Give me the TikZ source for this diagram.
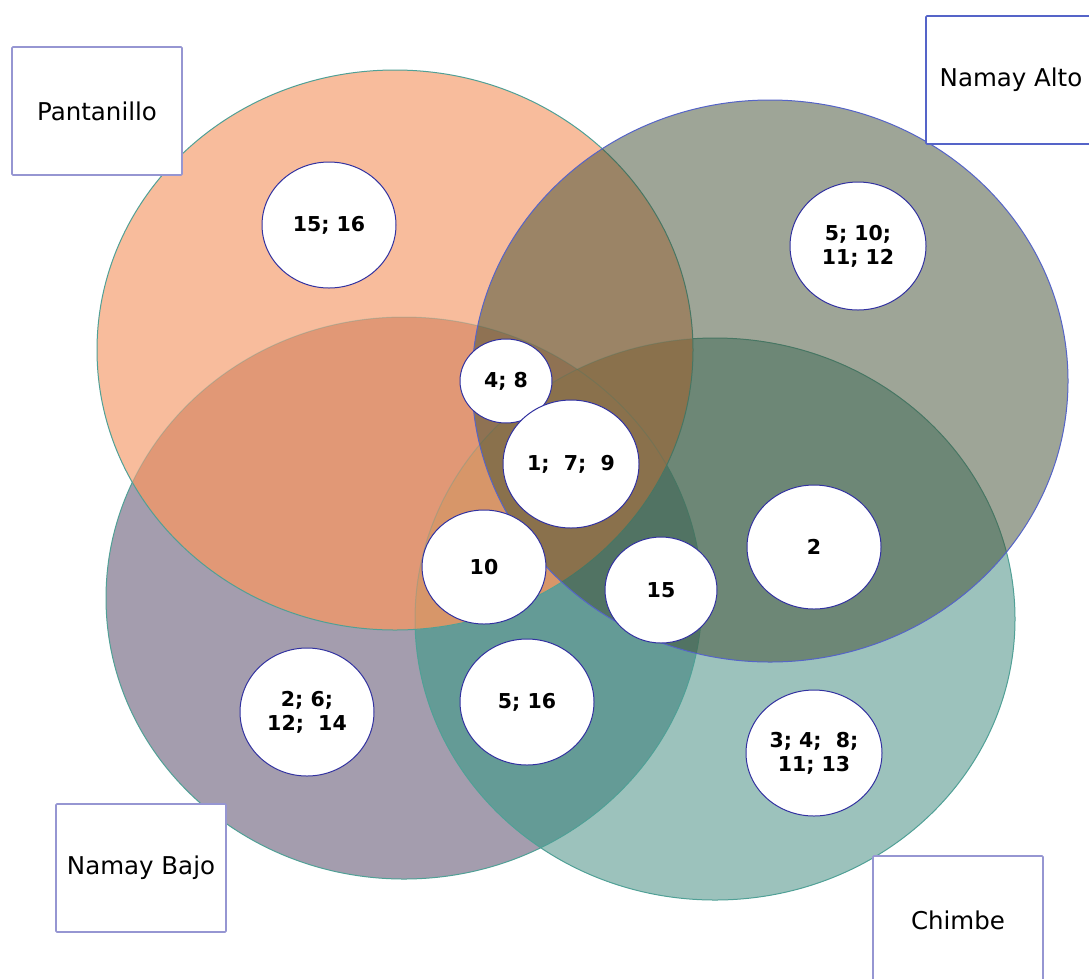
\documentclass[tikz,border=0pt]{standalone}
\usepackage{fontspec}
\setmainfont{DejaVu Sans}
\usetikzlibrary{shapes.geometric}
\definecolor{onlyP}{RGB}{248,188,156}
\definecolor{onlyB}{RGB}{164,157,174}
\definecolor{onlyC}{RGB}{156,194,188}
\definecolor{PB}{RGB}{225,152,118}
\definecolor{PC}{RGB}{215,150,105}
\definecolor{BC}{RGB}{100,155,150}
\definecolor{cAlto}{RGB}{63,77,49}
\definecolor{edgeTeal}{RGB}{80,160,150}
\definecolor{edgeBlue}{RGB}{85,100,200}
\definecolor{circEdge}{RGB}{50,50,160}
\definecolor{boxEdge}{RGB}{150,150,210}
\newcommand{\ellP}{(395,350) ellipse [x radius=298pt, y radius=280pt]}
\newcommand{\ellA}{(770,381) ellipse [x radius=298pt, y radius=281pt]}
\newcommand{\ellB}{(404,598) ellipse [x radius=298pt, y radius=281pt]}
\newcommand{\ellC}{(715,619) ellipse [x radius=300pt, y radius=281pt]}
\tikzset{
  setedge/.style={line width=1pt, draw=edgeTeal},
  spot/.style={ellipse, fill=white, draw=circEdge, line width=1pt, inner sep=0pt,
    align=center, font=\fontsize{20.5}{24}\selectfont\bfseries},
  lbl/.style={rectangle, fill=white, draw=boxEdge, line width=1.6pt, rounded corners=1pt,
    minimum width=170pt, minimum height=128pt, inner sep=0pt,
    font=\fontsize{24.5}{28}\selectfont}
}
\begin{document}
\begin{tikzpicture}[x=1pt,y=-1pt]
\useasboundingbox (0,0) rectangle (1089,978);
\clip (0,0) rectangle (1089,978);
\fill[white] (0,0) rectangle (1089,978);
% Namay Bajo and Chimbe
\fill[onlyB] \ellB;
\fill[onlyC] \ellC;
\begin{scope}
  \clip \ellB;
  \fill[BC] \ellC;
\end{scope}
\draw[setedge] \ellB;
\draw[setedge] \ellC;
% Pantanillo
\fill[onlyP] \ellP;
\begin{scope}
  \clip \ellP;
  \fill[PB] \ellB;
  \fill[PC] \ellC;
  \draw[setedge, draw opacity=0.3] \ellB;
  \draw[setedge, draw opacity=0.3] \ellC;
\end{scope}
\draw[setedge] \ellP;
% Namay Alto
\draw[line width=1pt, fill=cAlto, fill opacity=0.5, draw=edgeBlue] \ellA;
% spots
\node[spot, minimum width=134pt, minimum height=126pt] (s1516) at (329,225) {15; 16};
\node[spot, minimum width=136pt, minimum height=128pt] (s5101112) at (858,246) {5; 10;\\11; 12};
\node[spot, minimum width=92pt, minimum height=84pt] (s48) at (506,381) {4; 8};
\node[spot, minimum width=136pt, minimum height=128pt] (s179) at (571,464) {1;\ \ 7;\ \ 9};
\node[spot, minimum width=124pt, minimum height=114pt] (s10) at (484,567) {10};
\node[spot, minimum width=112pt, minimum height=106pt] (s15) at (661,590) {15};
\node[spot, minimum width=134pt, minimum height=124pt] (s2) at (814,547) {2};
\node[spot, minimum width=134pt, minimum height=128pt] (s261214) at (307,712) {2; 6;\\12;\ \ 14};
\node[spot, minimum width=134pt, minimum height=126pt] (s516) at (527,702) {5; 16};
\node[spot, minimum width=136pt, minimum height=126pt] (s3481113) at (814,753) {3; 4;\ \ 8;\\11; 13};
% labels
\node[lbl] (pan) at (97,111) {Pantanillo};
\node[lbl, draw=edgeBlue] (alto) at (1011,80) {Namay Alto};
\node[lbl] (bajo) at (141,868) {Namay Bajo};
\node[lbl] (chim) at (958,920) {Chimbe};
\end{tikzpicture}
\end{document}
